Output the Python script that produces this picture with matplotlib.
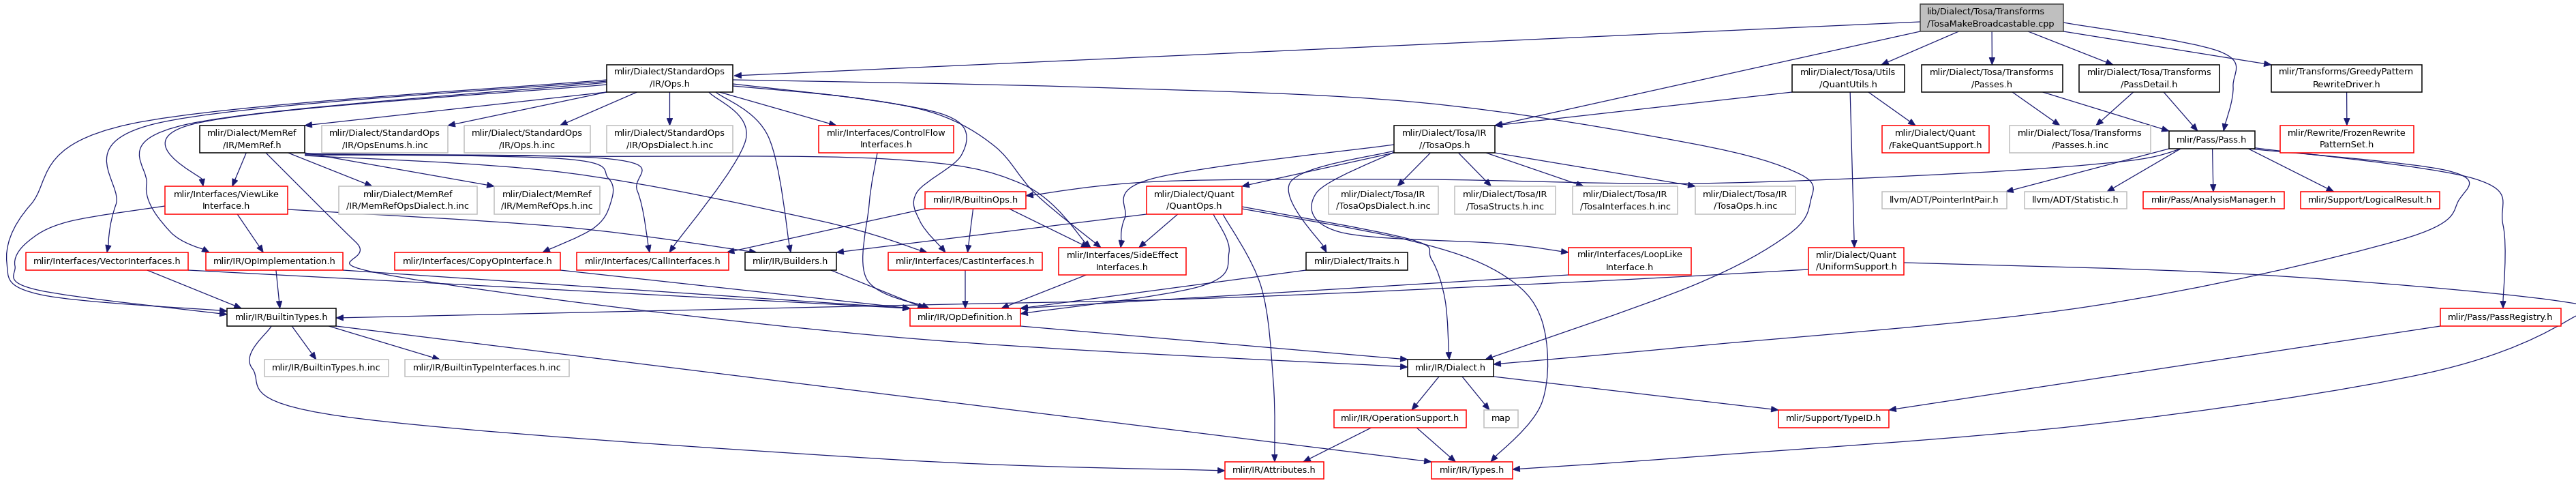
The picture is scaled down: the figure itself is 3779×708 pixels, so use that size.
import matplotlib
matplotlib.use('Agg')
import matplotlib.pyplot as plt
from matplotlib.patches import Rectangle, Polygon, PathPatch
from matplotlib.path import Path
import numpy as np

W, H = 3779, 708
EDGE = '#191970'

# node labels
labels = {
    'root': 'lib/Dialect/Tosa/Transforms\n/TosaMakeBroadcastable.cpp',
    'std': 'mlir/Dialect/StandardOps\n/IR/Ops.h',
    'qutils': 'mlir/Dialect/Tosa/Utils\n/QuantUtils.h',
    'passes': 'mlir/Dialect/Tosa/Transforms\n/Passes.h',
    'pdetail': 'mlir/Dialect/Tosa/Transforms\n/PassDetail.h',
    'greedy': 'mlir/Transforms/GreedyPattern\nRewriteDriver.h',
    'memref': 'mlir/Dialect/MemRef\n/IR/MemRef.h',
    'enums': 'mlir/Dialect/StandardOps\n/IR/OpsEnums.h.inc',
    'opsinc': 'mlir/Dialect/StandardOps\n/IR/Ops.h.inc',
    'opsdia': 'mlir/Dialect/StandardOps\n/IR/OpsDialect.h.inc',
    'cflow': 'mlir/Interfaces/ControlFlow\nInterfaces.h',
    'tosa': 'mlir/Dialect/Tosa/IR\n//TosaOps.h',
    'fakeq': 'mlir/Dialect/Quant\n/FakeQuantSupport.h',
    'passinc': 'mlir/Dialect/Tosa/Transforms\n/Passes.h.inc',
    'pass': 'mlir/Pass/Pass.h',
    'frozen': 'mlir/Rewrite/FrozenRewrite\nPatternSet.h',
    'viewlike': 'mlir/Interfaces/ViewLike\nInterface.h',
    'mrdia': 'mlir/Dialect/MemRef\n/IR/MemRefOpsDialect.h.inc',
    'mrops': 'mlir/Dialect/MemRef\n/IR/MemRefOps.h.inc',
    'bops': 'mlir/IR/BuiltinOps.h',
    'quantops': 'mlir/Dialect/Quant\n/QuantOps.h',
    'tdia': 'mlir/Dialect/Tosa/IR\n/TosaOpsDialect.h.inc',
    'tstruct': 'mlir/Dialect/Tosa/IR\n/TosaStructs.h.inc',
    'tiface': 'mlir/Dialect/Tosa/IR\n/TosaInterfaces.h.inc',
    'topsinc': 'mlir/Dialect/Tosa/IR\n/TosaOps.h.inc',
    'pip': 'llvm/ADT/PointerIntPair.h',
    'stat': 'llvm/ADT/Statistic.h',
    'am': 'mlir/Pass/AnalysisManager.h',
    'lr': 'mlir/Support/LogicalResult.h',
    'vec': 'mlir/Interfaces/VectorInterfaces.h',
    'opimpl': 'mlir/IR/OpImplementation.h',
    'copy': 'mlir/Interfaces/CopyOpInterface.h',
    'call': 'mlir/Interfaces/CallInterfaces.h',
    'builders': 'mlir/IR/Builders.h',
    'cast': 'mlir/Interfaces/CastInterfaces.h',
    'side': 'mlir/Interfaces/SideEffect\nInterfaces.h',
    'traits': 'mlir/Dialect/Traits.h',
    'loop': 'mlir/Interfaces/LoopLike\nInterface.h',
    'uniform': 'mlir/Dialect/Quant\n/UniformSupport.h',
    'btypes': 'mlir/IR/BuiltinTypes.h',
    'opdef': 'mlir/IR/OpDefinition.h',
    'preg': 'mlir/Pass/PassRegistry.h',
    'btinc': 'mlir/IR/BuiltinTypes.h.inc',
    'btiinc': 'mlir/IR/BuiltinTypeInterfaces.h.inc',
    'dialect': 'mlir/IR/Dialect.h',
    'opsup': 'mlir/IR/OperationSupport.h',
    'map': 'map',
    'typeid': 'mlir/Support/TypeID.h',
    'attrs': 'mlir/IR/Attributes.h',
    'types': 'mlir/IR/Types.h',
}

documented = ['std', 'qutils', 'passes', 'pdetail', 'greedy', 'memref', 'tosa',
              'pass', 'btypes', 'builders', 'traits', 'dialect']
external = ['enums', 'opsinc', 'opsdia', 'passinc', 'mrdia', 'mrops', 'tdia',
            'tstruct', 'tiface', 'topsinc', 'pip', 'stat', 'btinc', 'btiinc', 'map']

# include edges (file -> included file)
edges = [
    ('root', 'std'), ('root', 'tosa'), ('root', 'qutils'), ('root', 'passes'),
    ('root', 'pdetail'), ('root', 'greedy'), ('root', 'pass'),
    ('std', 'memref'), ('std', 'enums'), ('std', 'opsinc'), ('std', 'opsdia'),
    ('std', 'cflow'), ('std', 'viewlike'), ('std', 'vec'), ('std', 'opimpl'),
    ('std', 'btypes'), ('std', 'call'), ('std', 'builders'), ('std', 'cast'),
    ('std', 'side'), ('std', 'dialect'),
    ('memref', 'viewlike'), ('memref', 'mrdia'), ('memref', 'mrops'),
    ('memref', 'dialect'), ('memref', 'copy'), ('memref', 'call'),
    ('memref', 'cast'), ('memref', 'side'),
    ('viewlike', 'btypes'), ('viewlike', 'opimpl'), ('viewlike', 'builders'),
    ('vec', 'btypes'), ('vec', 'opdef'),
    ('opimpl', 'btypes'), ('opimpl', 'opdef'),
    ('copy', 'opdef'), ('builders', 'opdef'), ('cflow', 'opdef'),
    ('cast', 'opdef'), ('side', 'opdef'),
    ('btypes', 'btinc'), ('btypes', 'btiinc'), ('btypes', 'types'), ('btypes', 'attrs'),
    ('opdef', 'dialect'),
    ('bops', 'call'), ('bops', 'cast'), ('bops', 'side'),
    ('quantops', 'side'), ('quantops', 'builders'), ('quantops', 'opdef'),
    ('quantops', 'attrs'), ('quantops', 'dialect'), ('quantops', 'types'),
    ('tosa', 'side'), ('tosa', 'quantops'), ('tosa', 'traits'), ('tosa', 'loop'),
    ('tosa', 'tdia'), ('tosa', 'tstruct'), ('tosa', 'tiface'), ('tosa', 'topsinc'),
    ('traits', 'opdef'), ('loop', 'opdef'),
    ('qutils', 'tosa'), ('qutils', 'fakeq'), ('qutils', 'uniform'),
    ('uniform', 'btypes'), ('uniform', 'types'),
    ('passes', 'passinc'), ('passes', 'pass'),
    ('pdetail', 'passinc'), ('pdetail', 'pass'),
    ('greedy', 'frozen'),
    ('pass', 'bops'), ('pass', 'pip'), ('pass', 'stat'), ('pass', 'am'),
    ('pass', 'lr'), ('pass', 'preg'), ('pass', 'dialect'),
    ('preg', 'typeid'),
    ('dialect', 'opsup'), ('dialect', 'map'), ('dialect', 'typeid'),
    ('opsup', 'attrs'), ('opsup', 'types'),
]

# ---- layout (pixel boxes x0, x1, y0, y1; y grows downward) ----
boxes = {
    'root': (2817, 3027, 6, 46),
    'std': (890, 1075, 95, 135), 'qutils': (2629, 2794, 95, 135),
    'passes': (2819, 3026, 95, 135), 'pdetail': (3050, 3256, 95, 135),
    'greedy': (3332, 3553, 95, 135),
    'memref': (293, 447, 184, 224), 'enums': (472, 657, 184, 224),
    'opsinc': (681, 866, 184, 224), 'opsdia': (890, 1075, 184, 224),
    'cflow': (1201, 1399, 184, 224), 'tosa': (2045, 2193, 184, 224),
    'fakeq': (2761, 2918, 184, 224), 'passinc': (2948, 3155, 184, 224),
    'pass': (3182, 3308, 192, 218), 'frozen': (3345, 3541, 184, 224),
    'viewlike': (242, 422, 273, 314), 'mrdia': (497, 700, 273, 314),
    'mrops': (725, 880, 273, 314), 'bops': (1357, 1505, 281, 306),
    'quantops': (1682, 1822, 273, 314), 'tdia': (1949, 2110, 273, 314),
    'tstruct': (2134, 2282, 273, 314), 'tiface': (2307, 2461, 273, 314),
    'topsinc': (2487, 2634, 273, 314), 'pip': (2761, 2944, 281, 306),
    'stat': (2970, 3120, 281, 306), 'am': (3144, 3351, 281, 306),
    'lr': (3375, 3579, 281, 306),
    'vec': (38, 276, 370, 396), 'opimpl': (302, 503, 370, 396),
    'copy': (579, 822, 370, 396), 'call': (846, 1069, 370, 396),
    'builders': (1093, 1227, 370, 396), 'cast': (1303, 1529, 370, 396),
    'side': (1553, 1740, 363, 403), 'traits': (1916, 2065, 370, 396),
    'loop': (2301, 2481, 363, 403), 'uniform': (2653, 2793, 363, 403),
    'btypes': (333, 493, 452, 478), 'opdef': (1335, 1497, 452, 478),
    'preg': (3580, 3757, 452, 478),
    'btinc': (388, 570, 527, 552), 'btiinc': (594, 835, 527, 552),
    'dialect': (2065, 2191, 527, 552),
    'opsup': (1957, 2151, 601, 627), 'map': (2177, 2227, 601, 627),
    'typeid': (2609, 2771, 601, 627),
    'attrs': (1797, 1942, 677, 702), 'types': (2100, 2219, 677, 702),
}

# spline paths (start on tail box, end on head box) for the routed edges
routes = {
    ('root', 'std'): [(2817, 32), (1077, 111)],
    ('root', 'pass'): [(3027, 33), (3255, 75), (3276, 127), (3262, 192)],
    ('pass', 'bops'): [(3200, 218), (3120, 236), (2880, 254), (2480, 269),
                       (2080, 263), (1700, 266), (1505, 287)],
    ('pass', 'dialect'): [(3300, 218), (3590, 250), (3608, 292), (3520, 352),
                          (3060, 450), (2480, 508), (2191, 534)],
    ('pass', 'preg'): [(3302, 216), (3630, 262), (3672, 330), (3672, 452)],
    ('std', 'dialect'): [(1075, 117), (1600, 128), (2080, 150), (2480, 210),
                         (2640, 255), (2656, 295), (2622, 345), (2480, 420),
                         (2179, 527)],
    ('std', 'btypes'): [(890, 117), (190, 182), (45, 300), (10, 385), (60, 432),
                        (333, 456)],
    ('viewlike', 'btypes'): [(242, 302), (100, 325), (40, 355), (22, 390),
                             (55, 425), (333, 461)],
    ('std', 'vec'): [(890, 119), (225, 182), (170, 300), (157, 370)],
    ('std', 'opimpl'): [(890, 121), (275, 182), (215, 270), (250, 340), (307, 370)],
    ('std', 'viewlike'): [(890, 124), (283, 182), (298, 273)],
    ('std', 'call'): [(1040, 135), (1094, 205), (982, 370)],
    ('std', 'builders'): [(1050, 135), (1127, 200), (1160, 370)],
    ('std', 'cast'): [(1075, 123), (1300, 150), (1405, 178), (1410, 228),
                      (1345, 282), (1350, 325), (1387, 370)],
    ('std', 'side'): [(1075, 126), (1250, 143), (1374, 167), (1460, 215),
                      (1520, 285), (1615, 363)],
    ('memref', 'dialect'): [(390, 224), (522, 355), (580, 405), (1300, 493),
                            (2065, 538)],
    ('memref', 'copy'): [(447, 226), (829, 233), (893, 262), (895, 300),
                         (870, 335), (796, 370)],
    ('memref', 'call'): [(447, 227), (895, 233), (935, 280), (953, 370)],
    ('memref', 'cast'): [(447, 228), (829, 253), (1200, 323), (1360, 370)],
    ('memref', 'side'): [(447, 225), (829, 229), (1300, 233), (1500, 270),
                         (1600, 363)],
    ('viewlike', 'builders'): [(422, 307), (829, 333), (1110, 370)],
    ('cflow', 'opdef'): [(1287, 224), (1275, 300), (1272, 410), (1363, 452)],
    ('btypes', 'attrs'): [(398, 478), (370, 540), (500, 610), (1300, 673),
                          (1797, 690)],
    ('quantops', 'opdef'): [(1780, 314), (1803, 370), (1760, 420), (1497, 460)],
    ('quantops', 'attrs'): [(1794, 314), (1850, 420), (1868, 560), (1870, 677)],
    ('quantops', 'dialect'): [(1822, 303), (2066, 350), (2100, 380), (2120, 440),
                              (2126, 527)],
    ('quantops', 'types'): [(1822, 306), (2066, 352), (2200, 400), (2262, 470),
                            (2262, 590), (2187, 677)],
    ('tosa', 'side'): [(2045, 212), (1690, 262), (1650, 320), (1644, 363)],
    ('tosa', 'traits'): [(2045, 221), (1893, 267), (1946, 370)],
    ('tosa', 'loop'): [(2045, 223), (1931, 283), (1965, 340), (2200, 357),
                       (2301, 370)],
    ('uniform', 'btypes'): [(2653, 395), (2340, 412), (1780, 437), (1300, 448),
                            (493, 466)],
    ('uniform', 'types'): [(2793, 385), (3300, 402), (3745, 440), (3770, 468),
                           (3560, 547), (3060, 623), (2480, 670), (2219, 688)],
}


def center(b):
    return ((b[0] + b[1]) / 2, (b[2] + b[3]) / 2)


def ports(bs, bd, k=0.23):
    # straight edge: leave the tail bottom, enter the head top
    cs, cd = center(bs), center(bd)
    hs, hd = (bs[1] - bs[0]) / 2, (bd[1] - bd[0]) / 2
    dx = cd[0] - cs[0]
    x0 = cs[0] + np.clip(dx * k, -hs, hs)
    x1 = cd[0] + np.clip(-dx * k, -hd, hd)
    return [(x0, bs[3]), (x1, bd[2])]


fig = plt.figure(figsize=(W / 100, H / 100), dpi=100)
ax = fig.add_axes([0, 0, 1, 1])
ax.set_xlim(0, W)
ax.set_ylim(H, 0)
ax.axis('off')

for s, d in edges:
    pts = routes.get((s, d)) or ports(boxes[s], boxes[d])
    pts = np.array(pts, dtype=float)
    # Catmull-Rom -> cubic bezier
    ext = np.vstack([pts[0], pts, pts[-1]])
    verts = [tuple(pts[0])]
    codes = [Path.MOVETO]
    for i in range(len(pts) - 1):
        c1 = ext[i + 1] + (ext[i + 2] - ext[i]) / 6
        c2 = ext[i + 2] - (ext[i + 3] - ext[i + 1]) / 6
        verts += [tuple(c1), tuple(c2), tuple(ext[i + 2])]
        codes += [Path.CURVE4] * 3
    tip = np.array(verts[-1])
    back = np.array(verts[-2])
    if np.allclose(tip, back):
        back = np.array(verts[-4])
    u = (tip - back) / np.hypot(*(tip - back))
    nrm = np.array([-u[1], u[0]])
    L, hw = 10.5, 4.2
    base = tip - u * L
    verts[-1] = tuple(base)
    ax.add_patch(PathPatch(Path(verts, codes), fc='none', ec=EDGE, lw=0.9, zorder=1))
    ax.add_patch(Polygon([tip, base + nrm * hw, base - nrm * hw], closed=True,
                         fc=EDGE, ec=EDGE, lw=0.6, zorder=2))

for k, b in boxes.items():
    if k == 'root':
        fc, ec = '#bfbfbf', '#404040'
    elif k in documented:
        fc, ec = 'white', 'black'
    elif k in external:
        fc, ec = 'white', '#bfbfbf'
    else:
        fc, ec = 'white', 'red'
    ax.add_patch(Rectangle((b[0], b[2]), b[1] - b[0], b[3] - b[2], fc=fc, ec=ec,
                           lw=1.1, zorder=3))
    cx, cy = center(b)
    if k == 'root':
        ax.text(b[0] + 10, cy, labels[k], ha='left', va='center', fontsize=9.25,
                family='DejaVu Sans', linespacing=1.5, multialignment='left', zorder=4)
    else:
        ax.text(cx, cy, labels[k], ha='center', va='center', fontsize=9.25,
                family='DejaVu Sans', linespacing=1.5, zorder=4)

fig.savefig('out.png', dpi=100)
